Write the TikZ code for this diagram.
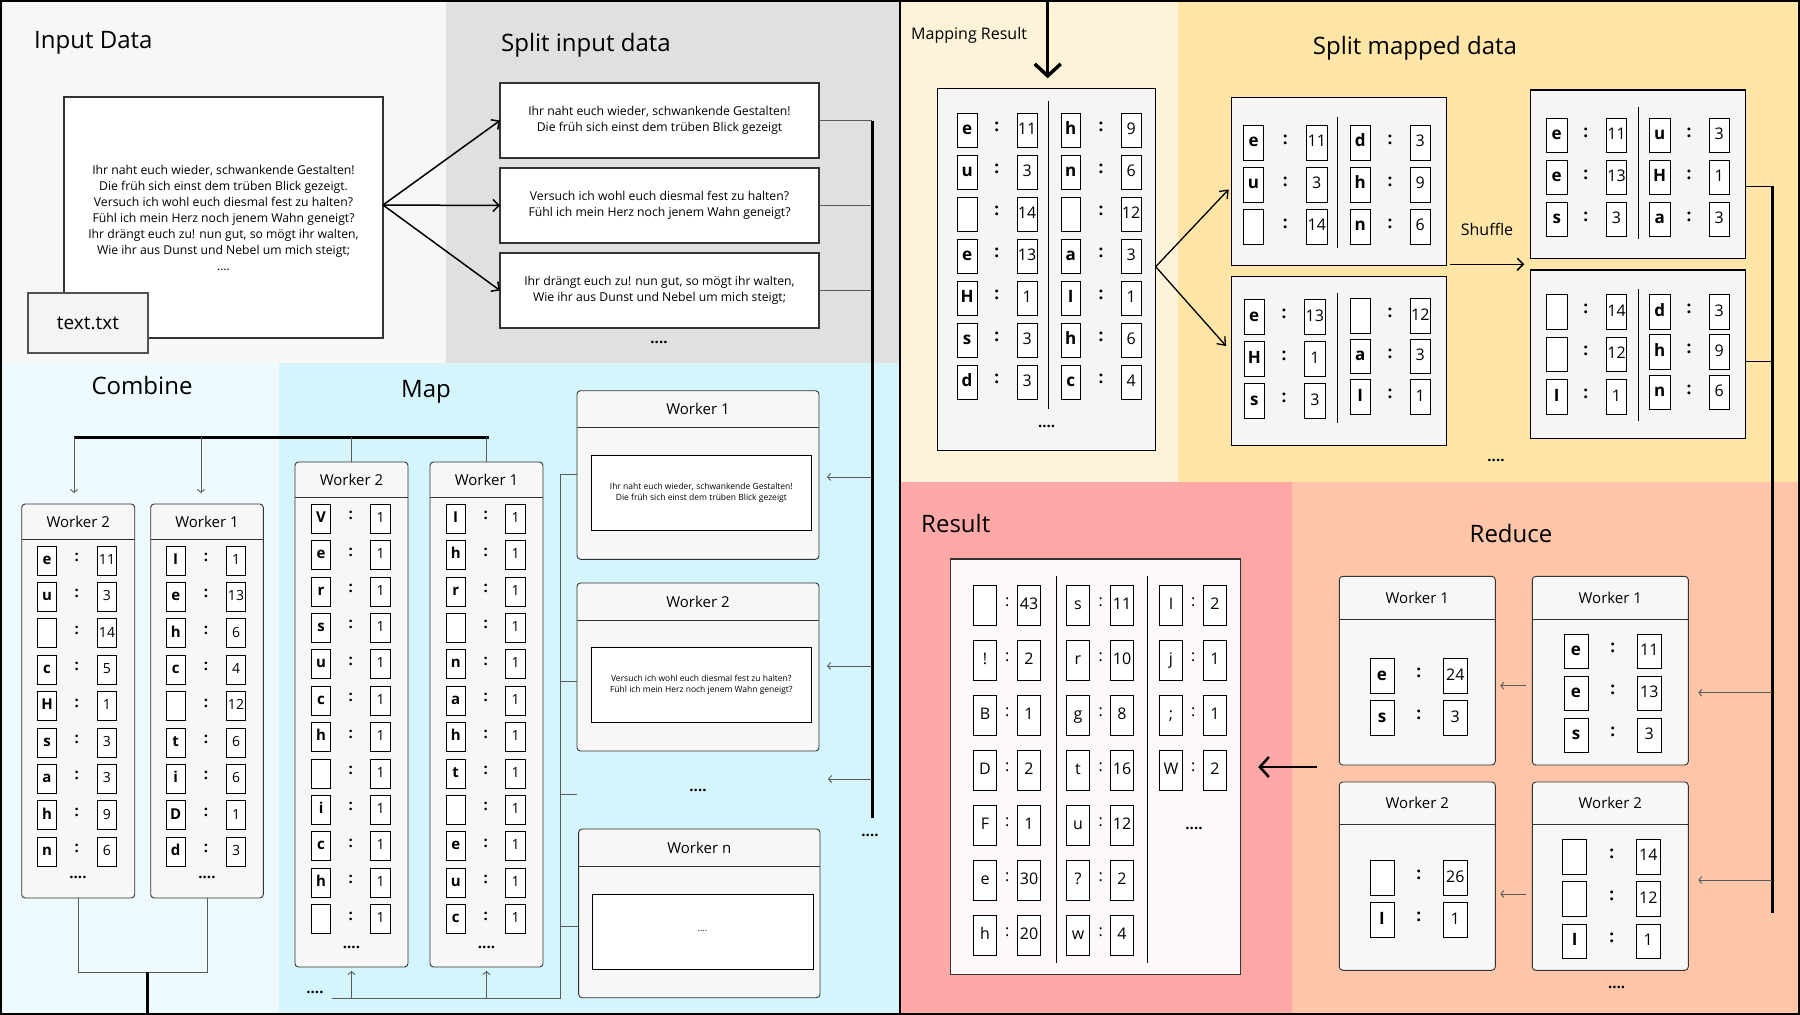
\documentclass[tikz,border=0pt]{standalone}
\usepackage{fontspec}
\setmainfont{Open Sans}
\usetikzlibrary{arrows.meta}
\definecolor{cInput}{HTML}{F7F7F7}
\definecolor{cSplit}{HTML}{E0E0E0}
\definecolor{cComb}{HTML}{EEFAFE}
\definecolor{cMap}{HTML}{D5F5FD}
\definecolor{cMapRes}{HTML}{FEF3D9}
\definecolor{cSplitM}{HTML}{FFE5A6}
\definecolor{cRes}{HTML}{FFA8A8}
\definecolor{cRed}{HTML}{FFC5A8}
\definecolor{cBox}{HTML}{F5F5F5}
\definecolor{cWork}{HTML}{F7F7F7}
\definecolor{cEdge}{HTML}{333333}
\definecolor{cGrey}{HTML}{5A5A5A}
\definecolor{cResBox}{HTML}{FFF8F8}
\newcommand\fs[1]{\fontsize{#1}{#1}\selectfont}
\newcommand\kv[8]{%
  \node[kb,#1 box,#1 key] (#2k) at ({#3},{#6}) {#7};
  \node[#1 colon] (#2c) at ({#4},{#6-3}) {:};
  \node[kb,#1 box,#1 val] (#2v) at ({#5},{#6}) {#8};}
\newcommand\wrk[7]{%
  \pgfmathsetmacro\wwd{#4-#2}\pgfmathsetmacro\wht{#5-#3}\pgfmathsetmacro\hhf{#6/2}%
  \node[wbox,minimum width=\wwd pt,minimum height=\wht pt,anchor=north west] (#1) at (#2,#3) {};
  \draw[wline] ([yshift=-#6pt]#1.north west) -- ([yshift=-#6pt]#1.north east);
  \node[wtitle] (#1t) at ([yshift=-\hhf pt]#1.north) {#7};}
\newcommand\bx[7]{%
  \pgfmathsetmacro\wwd{#4-#2}\pgfmathsetmacro\wht{#5-#3}%
  \node[#6,minimum width=\wwd pt,minimum height=\wht pt,anchor=north west] (#1) at (#2,#3) {#7};}
\tikzset{
  ttl/.style={font=\fs{24},inner sep=0pt},
  kb/.style={draw=black,fill=white,line width=0.8pt,anchor=west,inner sep=0pt,outer sep=0pt},
  cm box/.style={minimum width=19.4pt,minimum height=29pt,text height=10.5pt,text depth=3pt},
  cm key/.style={font=\bfseries\fs{15}},
  cm val/.style={font=\fs{14}},
  cm colon/.style={font=\bfseries\fs{15},inner sep=0pt},
  mr box/.style={minimum width=19.6pt,minimum height=34.4pt,text height=12pt,text depth=3.5pt},
  mr key/.style={font=\bfseries\fs{17}},
  mr val/.style={font=\fs{16}},
  mr colon/.style={font=\bfseries\fs{17},inner sep=0pt},
  sm box/.style={minimum width=20.5pt,minimum height=34.6pt,text height=12pt,text depth=3.5pt},
  sm key/.style={font=\bfseries\fs{17}},
  sm val/.style={font=\fs{16}},
  sm colon/.style={font=\bfseries\fs{17},inner sep=0pt},
  rd box/.style={minimum width=24pt,minimum height=34.7pt,text height=12pt,text depth=3.5pt},
  rd key/.style={font=\bfseries\fs{17}},
  rd val/.style={font=\fs{16}},
  rd colon/.style={font=\bfseries\fs{17},inner sep=0pt},
  rs box/.style={minimum width=23.4pt,minimum height=40pt,text height=11.5pt,text depth=3.5pt},
  rs key/.style={font=\fs{16}},
  rs val/.style={font=\fs{16}},
  rs colon/.style={font=\fs{16},inner sep=0pt},
  wbox/.style={draw=cEdge,fill=cWork,line width=0.9pt,rounded corners=3.5pt,inner sep=0pt,outer sep=0pt},
  wline/.style={draw=cEdge,line width=0.9pt},
  wtitle/.style={font=\fs{15},inner sep=0pt},
  dotsn/.style={font=\bfseries\fs{15},inner sep=0pt},
  tbox/.style={draw=cEdge,fill=white,line width=1.2pt,outer sep=0pt,align=center,font=\fontsize{12.2}{16}\selectfont},
  sbox/.style={draw=black,fill=white,line width=1pt,outer sep=0pt,align=center,font=\fontsize{8.5}{11}\selectfont},
  bigbox/.style={draw=black,fill=cBox,line width=1.2pt,outer sep=0pt},
  arr/.style={draw=black,line width=1.5pt,-{Straight Barb[length=6pt,width=12pt]}},
  arrb/.style={draw=black,line width=1.3pt,-{Straight Barb[length=7pt,width=11pt]}},
  garr/.style={draw=cGrey,line width=0.9pt,-{Straight Barb[length=3pt,width=7pt]}},
  gline/.style={draw=cGrey,line width=1pt},
  dline/.style={draw=black,line width=1pt},
  busl/.style={draw=black,line width=3pt},
  bigarr/.style={draw=black,line width=3.5pt,-{Straight Barb[length=12pt,width=26pt]}},
  resarr/.style={draw=black,line width=2.5pt,-{Straight Barb[length=9pt,width=20pt]}}
}
\begin{document}
\begin{tikzpicture}[x=1pt,y=-1pt]
\useasboundingbox (0,0) rectangle (1800,1015);
% panels
\fill[cInput] (0,0) rectangle (446,363);
\fill[cSplit] (446,0) rectangle (900,363);
\fill[cComb] (0,363) rectangle (279,1015);
\fill[cMap] (279,363) rectangle (900,1015);
\fill[cMapRes] (900,0) rectangle (1178,482);
\fill[cSplitM] (1178,0) rectangle (1800,482);
\fill[cRes] (900,482) rectangle (1292,1015);
\fill[cRed] (1292,482) rectangle (1800,1015);

% ---------- Input data ----------
\node[ttl,anchor=west] (tInput) at (34,43) {Input Data};
\bx{inbox}{64}{97}{383}{338}{tbox}{Ihr naht euch wieder, schwankende Gestalten!\\Die früh sich einst dem trüben Blick gezeigt.\\Versuch ich wohl euch diesmal fest zu halten?\\Fühl ich mein Herz noch jenem Wahn geneigt?\\Ihr drängt euch zu! nun gut, so mögt ihr walten,\\Wie ihr aus Dunst und Nebel um mich steigt;\\....}
\bx{txt}{28}{293}{148}{353}{draw=cEdge!85,fill=gray!9,line width=1.2pt,outer sep=0pt,font=\fs{19}}{text.txt}

% ---------- Split input data ----------
\node[ttl,anchor=west] (tSplit) at (501,45) {Split input data};
\bx{sp1}{500}{83}{819}{158}{tbox}{Ihr naht euch wieder, schwankende Gestalten!\\Die früh sich einst dem trüben Blick gezeigt}
\bx{sp2}{500}{168}{819}{243}{tbox}{Versuch ich wohl euch diesmal fest zu halten?\\Fühl ich mein Herz noch jenem Wahn geneigt?}
\bx{sp3}{500}{253}{819}{328}{tbox}{Ihr drängt euch zu! nun gut, so mögt ihr walten,\\Wie ihr aus Dunst und Nebel um mich steigt;}
\node[dotsn] (spdots) at (659,342) {....};
\coordinate (inout) at (383,205);
\draw[arr] (inout) -- (sp1.west);
\draw[arr] (inout) -- (sp2.west);
\draw[arr] (inout) -- (sp3.west);
\coordinate (sbt) at (872,121);
\coordinate (sbb) at (872,818);
\draw[gline] (sp1.east) -- (sp1.east -| sbt);
\draw[gline] (sp2.east) -- (sp2.east -| sbt);
\draw[gline] (sp3.east) -- (sp3.east -| sbt);
\draw[busl] (sbt) -- (sbb);
\node[dotsn] (sbdots) at (870,835) {....};

% ---------- Combine ----------
\node[ttl] (tComb) at (142,385) {Combine};
\coordinate (cbarL) at (74,437);
\coordinate (cbarR) at (489,437);
\coordinate (ca1) at (201,437);
\draw[busl] (cbarL) -- (cbarR);
\wrk{cw2}{21.7}{504}{134.7}{898}{35}{Worker 2}
\wrk{cw1}{150.7}{504}{263.3}{898}{35}{Worker 1}
\draw[garr,shorten >=11pt] (cbarL) -- (cbarL |- cw2.north);
\draw[garr,shorten >=11pt] (ca1) -- (ca1 |- cw1.north);
\foreach \k/\v [count=\i from 0] in {e/11,u/3,{}/14,c/5,H/1,s/3,a/3,h/9,n/6}
  {\kv{cm}{cwa\i}{37.3}{76.7}{97.3}{560.5+36.4*\i}{\k}{\v}}
\foreach \k/\v [count=\i from 0] in {I/1,e/13,h/6,c/4,{}/12,t/6,i/6,D/1,d/3}
  {\kv{cm}{cwb\i}{166}{206}{226.3}{560.5+36.4*\i}{\k}{\v}}
\node[dotsn] (cw2d) at (78,877) {....};
\node[dotsn] (cw1d) at (207,877) {....};
\coordinate (cjoin) at (147.5,972);
\coordinate (cexit) at (147.5,1015);
\draw[gline] (cw2.south) |- (cjoin) -| (cw1.south);
\draw[busl] (cjoin) -- (cexit);

% ---------- Map ----------
\node[ttl] (tMap) at (426,392) {Map};
\wrk{mw2}{295}{462}{408}{967}{35}{Worker 2}
\wrk{mw1}{430}{462}{543}{967}{35}{Worker 1}
\draw[gline] (mw2.north) -- (mw2.north |- cbarL);
\draw[gline] (mw1.north) -- (mw1.north |- cbarL);
\foreach \k [count=\i from 0] in {V,e,r,s,u,c,h,{},i,c,h,{}}
  {\kv{cm}{mwa\i}{311.4}{350.8}{370.8}{518.6+36.4*\i}{\k}{1}}
\foreach \k [count=\i from 0] in {I,h,r,{},n,a,h,t,{},e,u,c}
  {\kv{cm}{mwb\i}{446}{485.7}{505.8}{518.6+36.4*\i}{\k}{1}}
\node[dotsn] (mw2d) at (351.5,947) {....};
\node[dotsn] (mw1d) at (486.5,947) {....};

\wrk{pw1}{577}{390.7}{819}{559.3}{37}{Worker 1}
\bx{pi1}{591}{455.7}{811.6}{530.7}{sbox}{Ihr naht euch wieder, schwankende Gestalten!\\Die früh sich einst dem trüben Blick gezeigt}
\wrk{pw2}{577}{583}{819}{751}{37}{Worker 2}
\bx{pi2}{591}{647}{811.7}{722}{sbox}{Versuch ich wohl euch diesmal fest zu halten?\\Fühl ich mein Herz noch jenem Wahn geneigt?}
\node[dotsn] (pwdots) at (698,790) {....};
\wrk{pwn}{578.6}{829}{820}{997.7}{37}{Worker n}
\bx{pin}{592}{894}{813}{969}{sbox}{....}

% bus arrows to map workers
\coordinate (sa1) at (872,477);
\coordinate (sa2) at (872,666);
\coordinate (sa3) at (872,779);
\coordinate (sa3e) at (828,779);
\draw[garr,shorten >=8pt] (sa1) -- (sa1 -| pw1.east);
\draw[garr,shorten >=8pt] (sa2) -- (sa2 -| pw2.east);
\draw[garr] (sa3) -- (sa3e);

% bracket left of map workers
\coordinate (mbl) at (332,998);
\coordinate (mbr) at (560,998);
\coordinate (mbt) at (560,474);
\coordinate (mb2) at (560,681);
\coordinate (mb3) at (560,794);
\coordinate (mb3e) at (577,794);
\coordinate (mb4) at (560,926);
\draw[gline] (mbl) -- (mbr) -- (mbt) -- (mbt -| pw1.west);
\draw[gline] (mb2) -- (mb2 -| pw2.west);
\draw[gline] (mb3) -- (mb3e);
\draw[gline] (mb4) -- (mb4 -| pwn.west);
\draw[garr,shorten >=4pt] (mw2.south |- mbl) -- (mw2.south);
\draw[garr,shorten >=4pt] (mw1.south |- mbl) -- (mw1.south);
\node[dotsn] (mbdots) at (315,992) {....};

% ---------- Mapping Result ----------
\node[font=\fs{16},inner sep=0pt,anchor=west] (tMR) at (911,35) {Mapping Result};
\bx{mrbox}{937.3}{88.3}{1155.7}{450.7}{bigbox}{}
\coordinate (mtop) at (1047.7,0);
\draw[bigarr,shorten >=10pt] (mtop) -- (mtop |- mrbox.north);
\coordinate (mrd1) at (1048.3,101);
\coordinate (mrd2) at (1048.3,409);
\draw[dline] (mrd1) -- (mrd2);
\foreach \k/\v [count=\i from 0] in {e/11,u/3,{}/14,e/13,H/1,s/3,d/3}
  {\kv{mr}{mra\i}{957.3}{996.7}{1017.3}{130.3+42*\i}{\k}{\v}}
\foreach \k/\v [count=\i from 0] in {h/9,n/6,{}/12,a/3,I/1,h/6,c/4}
  {\kv{mr}{mrb\i}{1061}{1101}{1121.3}{130.3+42*\i}{\k}{\v}}
\node[dotsn] (mrdots) at (1046.7,426) {....};

% ---------- Split mapped data ----------
\node[ttl] (tSM) at (1415,48) {Split mapped data};
\bx{smA}{1231.4}{97.3}{1446.5}{265.7}{bigbox}{}
\bx{smB}{1231.4}{276.7}{1446.5}{445.3}{bigbox}{}
\bx{smC}{1530.3}{90}{1745.4}{258.3}{bigbox}{}
\bx{smD}{1530.3}{270}{1745.4}{438.3}{bigbox}{}
\coordinate (dA1) at (1337.4,116.7); \coordinate (dA2) at (1337.4,248.3);
\coordinate (dB1) at (1337.4,292.7); \coordinate (dB2) at (1337.4,423.3);
\coordinate (dC1) at (1638.7,107.3); \coordinate (dC2) at (1638.7,239.3);
\coordinate (dD1) at (1638.7,289); \coordinate (dD2) at (1638.7,420.7);
\draw[dline] (dA1) -- (dA2);
\draw[dline] (dB1) -- (dB2);
\draw[dline] (dC1) -- (dC2);
\draw[dline] (dD1) -- (dD2);
\foreach \k/\v [count=\i from 0] in {e/11,u/3,{}/14}
  {\kv{sm}{sAa\i}{1243.3}{1285.2}{1306.5}{142.6+42*\i}{\k}{\v}}
\foreach \k/\v [count=\i from 0] in {d/3,h/9,n/6}
  {\kv{sm}{sAb\i}{1350}{1390}{1410}{142.6+42*\i}{\k}{\v}}
\foreach \k/\v [count=\i from 0] in {e/13,H/1,s/3}
  {\kv{sm}{sBa\i}{1244}{1284}{1304.6}{317+42*\i}{\k}{\v}}
\foreach \k/\v [count=\i from 0] in {{}/12,a/3,I/1}
  {\kv{sm}{sBb\i}{1350}{1390}{1410}{316+40.5*\i}{\k}{\v}}
\foreach \k/\v [count=\i from 0] in {e/11,e/13,s/3}
  {\kv{sm}{sCa\i}{1546.5}{1585.7}{1606.3}{135.5+42*\i}{\k}{\v}}
\foreach \k/\v [count=\i from 0] in {u/3,H/1,a/3}
  {\kv{sm}{sCb\i}{1649.4}{1689}{1709}{135.5+42*\i}{\k}{\v}}
\foreach \k/\v [count=\i from 0] in {{}/14,{}/12,I/1}
  {\kv{sm}{sDa\i}{1546.5}{1585.7}{1606.3}{311.8+42.5*\i}{\k}{\v}}
\foreach \k/\v [count=\i from 0] in {d/3,h/9,n/6}
  {\kv{sm}{sDb\i}{1649.4}{1689}{1709}{311.8+40.3*\i}{\k}{\v}}
\coordinate (mrout) at (1155.7,266.7);
\draw[arrb,shorten >=4pt] (mrout) -- ([yshift=-5pt]smA.west);
\draw[arrb,shorten >=8pt] (mrout) -- ([yshift=9pt]smB.west);
\coordinate (shs) at (1450,264.3);
\draw[arr,shorten >=6pt] (shs) -- (shs -| smC.west);
\node[font=\fs{16},inner sep=0pt] (shuf) at (1487,229) {Shuffle};
\node[dotsn] (smdots) at (1496,460) {....};
\coordinate (rbt) at (1772,186);
\coordinate (rbD) at (1772,361.7);
\coordinate (rbb) at (1772,912.7);
\draw[dline] (rbt) -- (rbt -| smC.east);
\draw[dline] (rbD) -- (rbD -| smD.east);
\draw[busl] (rbt) -- (rbb);

% ---------- Reduce ----------
\node[ttl] (tRed) at (1511,533) {Reduce};
\wrk{rw1l}{1339.3}{576.3}{1495.3}{765}{42.7}{Worker 1}
\wrk{rw1r}{1532.3}{576.3}{1688.3}{765}{42.7}{Worker 1}
\wrk{rw2l}{1339.3}{782}{1495.3}{970.3}{42.7}{Worker 2}
\wrk{rw2r}{1532.3}{782}{1688.3}{970.3}{42.7}{Worker 2}
\foreach \k/\v [count=\i from 0] in {e/24,s/3}
  {\kv{rd}{rAa\i}{1370}{1418.7}{1443.3}{676+42*\i}{\k}{\v}}
\foreach \k/\v [count=\i from 0] in {e/11,e/13,s/3}
  {\kv{rd}{rBa\i}{1564}{1612.7}{1637.3}{651.3+42*\i}{\k}{\v}}
\foreach \k/\v [count=\i from 0] in {{}/26,I/1}
  {\kv{rd}{rCa\i}{1370}{1418.7}{1443.3}{878+42*\i}{\k}{\v}}
\foreach \k/\v [count=\i from 0] in {{}/14,{}/12,I/1}
  {\kv{rd}{rDa\i}{1562.7}{1611.7}{1636.3}{856.7+42.3*\i}{\k}{\v}}
\coordinate (ra) at (1772,692.7);
\coordinate (rb) at (1772,880);
\draw[garr,shorten >=10pt] (ra) -- (ra -| rw1r.east);
\draw[garr,shorten >=10pt] (rb) -- (rb -| rw2r.east);
\coordinate (rm1) at (1525.7,685.7);
\coordinate (rm2) at (1525.7,894);
\draw[garr,shorten >=5pt] (rm1) -- (rm1 -| rw1l.east);
\draw[garr,shorten >=5pt] (rm2) -- (rm2 -| rw2l.east);
\node[dotsn] (rdots) at (1616.7,987) {....};

% ---------- Result ----------
\node[ttl,anchor=west] (tRes) at (921,523) {Result};
\bx{resbox}{950.7}{559}{1240.7}{974.3}{draw=cEdge,fill=cResBox,line width=1.2pt,outer sep=0pt}{}
\coordinate (rd1a) at (1056.7,576); \coordinate (rd1b) at (1056.7,962.7);
\coordinate (rd2a) at (1147.3,576); \coordinate (rd2b) at (1147.3,962.7);
\draw[dline] (rd1a) -- (rd1b);
\draw[dline] (rd2a) -- (rd2b);
\foreach \k/\v [count=\i from 0] in {{}/43,!/2,B/1,D/2,F/1,e/30,h/20}
  {\kv{rs}{rsa\i}{973.3}{1007.3}{1017.3}{605+55*\i}{\k}{\v}}
\foreach \k/\v [count=\i from 0] in {s/11,r/10,g/8,t/16,u/12,?/2,w/4}
  {\kv{rs}{rsb\i}{1066.3}{1100.7}{1110.3}{605+55*\i}{\k}{\v}}
\foreach \k/\v [count=\i from 0] in {I/2,j/1,;/1,W/2}
  {\kv{rs}{rsc\i}{1159.3}{1193.3}{1203.3}{605+55*\i}{\k}{\v}}
\node[dotsn] (rsdots) at (1194,828) {....};
\coordinate (rrs) at (1316.7,767);
\draw[resarr,shorten >=17.5pt] (rrs) -- (rrs -| resbox.east);

% frame and divider
\draw[line width=2pt] (1,1) rectangle (1799,1014);
\draw[line width=2pt] (900,0) -- (900,1015);
\end{tikzpicture}
\end{document}
